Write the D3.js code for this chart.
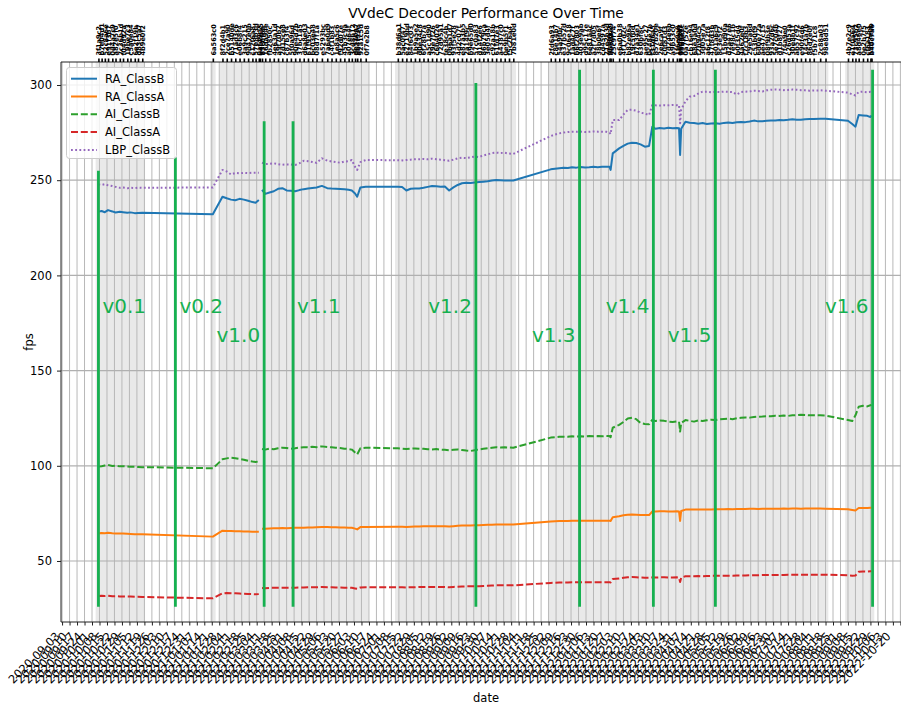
<!DOCTYPE html>
<html>
<head>
<meta charset="utf-8">
<script src="https://cdn.jsdelivr.net/npm/d3@7"></script>
<style>
  html, body { margin: 0; padding: 0; background: #fff; overflow: hidden; }
  svg { display: block; font-family: "DejaVu Sans", sans-serif; }
</style>
</head>
<body>
<svg id="chart" width="901" height="705"></svg>
<script>
// ---- benchmark runs, one per commit ----
const commitDates = [
  "2020-10-07","2020-10-10","2020-10-13","2020-10-16","2020-10-20","2020-10-23","2020-10-27","2020-10-30","2020-11-03","2020-11-06","2020-11-10","2020-11-13","2020-11-17",
  "2021-01-22",
  "2021-01-31","2021-02-04","2021-02-08","2021-02-12","2021-02-16","2021-02-20","2021-02-24","2021-02-28","2021-03-03","2021-03-06","2021-03-07","2021-03-09","2021-03-12","2021-03-16","2021-03-20","2021-03-24","2021-03-28","2021-04-01","2021-04-05","2021-04-09","2021-04-13","2021-04-17","2021-04-21","2021-04-25","2021-04-29","2021-05-04",
  "2021-05-09","2021-05-13","2021-05-17","2021-05-21","2021-05-25","2021-05-29","2021-06-01","2021-06-04","2021-06-06","2021-06-09","2021-06-14",
  "2021-07-14","2021-07-18","2021-07-22","2021-07-26","2021-07-30","2021-08-03","2021-08-07","2021-08-11","2021-08-15","2021-08-19","2021-08-23","2021-08-27","2021-08-31","2021-09-04","2021-09-08","2021-09-12","2021-09-16","2021-09-20","2021-09-24","2021-09-28","2021-10-02","2021-10-06","2021-10-10","2021-10-14","2021-10-18","2021-10-22","2021-10-26","2021-10-30",
  "2021-12-04","2021-12-08","2021-12-12","2021-12-16","2021-12-20","2021-12-24","2021-12-28","2022-01-01","2022-01-05","2022-01-09","2022-01-13","2022-01-17","2022-01-21","2022-01-25","2022-01-28","2022-01-29","2022-01-31",
  "2022-02-06","2022-02-10","2022-02-14","2022-02-18","2022-02-22","2022-02-26","2022-03-02","2022-03-06","2022-03-09","2022-03-12","2022-03-16","2022-03-20","2022-03-24","2022-03-28","2022-04-01","2022-04-03","2022-04-04","2022-04-05","2022-04-09","2022-04-13",
  "2022-04-17","2022-04-21","2022-04-25","2022-04-29","2022-05-03","2022-05-07","2022-05-11","2022-05-15","2022-05-19","2022-05-23","2022-05-27","2022-05-31","2022-06-04","2022-06-08","2022-06-12","2022-06-16","2022-06-20","2022-06-24","2022-06-28","2022-07-02","2022-07-06","2022-07-10","2022-07-14","2022-07-18","2022-07-22","2022-07-26","2022-07-30","2022-08-03","2022-08-07",
  "2022-08-13","2022-08-18",
  "2022-09-08","2022-09-12","2022-09-15","2022-09-18","2022-09-22","2022-09-26","2022-09-29","2022-09-30"
];

const commitHashes = [
  "3f1a9c2","b7e04d1","52c8a6e","e91f3b7","0d4a7c9","a82e5f0","7c36b1d","f04d92a","19be7c3","c5a0e84","6e2f19b","d83c5a7","4b9e0f2",
  "6a563c0",
  "8f2d4b1","2ce7a90","b5140de","71ad3c6","e06b8f4","3a9c215","9d47e0b","c12f6a8","57e8b3d","0af49c2","e4b7d15","83c0f6a","16da94e","fb2850c","4e63a1d","a9f70b2","2d15ce8","c87b3f4","5f0a96d","90e4d2b","37bc1a5","d6a8e03","61f95c7","bc03e48","08d7f1a","e5293bc",
  "7a6e0d9","c4f1b83","1e8a5c6","f92d07e","45b3c9a","a07e64f","3cd8b12","de510a7","6b4f93e","92a1c5d","0f7e2b8",
  "b38d6a1","5ac0f47","e2719bd","84f6c03","1b9a5e2","d0e34c8","6f28b7a","a5c1d90","39e7f26","c6b402e","72d95a1","fe38c4b","0b6a1d7","93f5e28","4d2c07f","e87a3b5","2a14f9c","b9e65d0","57c0a83","d14f2e6","86b79ca","3e05d4f","c92a18b","61fd7e3","a4387c0","0e9b5f1","f5c26a4","7b81e0d",
  "2fd6a93","c8e14b7","54a9f0c","e37b52d","9c06e18","1ad4c7f","b6f2803","403e9ab","d95c17e","6e81a4c","a2f7d05","38b0e6f","cd4597a","71e2b3d","f0a86c2","8b3d1e9","25c9f74",
  "e6a0b38","4f17d2c","b82e96a","19c5f0d","d7a34e1","630bf8c","ae95c27","0c48e7b","f31d6a5","857b20e","2e6ca9f","c0f81d3","7d24e6b","a9b53c0","1f6e0a8","e4c79d2","5b0a3f7","93d8e1c","0a7f52e","cb16e94",
  "68e3a0d","f2b94c5","3d05e7a","a6c12f8","47f8d3b","e01a6c9","8c3e5f2","15bd90a","d2a47e6","7e98c1b","b0f35d4","4a62e0f","f7c18b3","29e5a6d","c53b0f9","6d0e72a","ae47c15","08f9b3e","93a2d6c","5e7c04b","d1b8f27","7f4a9e0","c26d53a","30e8b1f","ab57c92","e90f4d6","14c3a7b","86d2e0f","f5b71c8",
  "2c88a03","98e8d51",
  "4b7e2c9","e1f0a6d","73c95b2","a8d46e0","0e2b7f5","cf6a183","59d3e0b","b40c7a6"
];

// decoded frames per second for each configuration (null = run failed)
const RA_ClassB = [
  233.5,233.8,233.2,234.3,233.6,233.0,233.4,233.2,232.9,233.1,232.7,232.8,232.9,
  232.1,
  241.3,240.5,239.8,239.5,240.2,239.8,239.2,238.5,238.2,239.6,null,244.9,242.8,243.5,244.2,245.5,245.8,244.6,244.5,244.2,244.8,245.3,245.6,245.9,246.2,247.0,
  245.8,245.6,245.5,245.4,245.3,245.0,244.6,243.0,241.3,246.2,246.6,
  246.6,246.4,244.6,245.5,245.6,245.7,246.0,246.5,247.0,246.8,246.6,246.7,244.6,246.2,247.5,248.4,248.6,248.5,248.8,249.0,249.2,249.4,249.8,250.1,250.0,249.9,249.8,249.8,
  255.7,256.0,256.3,256.5,256.4,256.8,256.6,256.9,256.7,256.8,257.0,256.8,257.0,257.1,257.1,255.4,264.1,
  266.7,268.0,269.2,269.7,269.5,268.8,267.6,268.0,278.1,277.0,277.4,277.2,277.5,277.3,277.4,277.3,263.2,277.0,280.7,280.2,
  280.0,279.7,280.0,279.5,279.8,279.9,279.7,280.1,280.3,280.0,280.4,280.6,280.5,280.8,281.3,280.9,281.0,281.2,281.4,281.3,281.6,281.5,281.7,282.0,281.8,281.7,282.0,282.1,282.2,
  282.3,282.3,
  281.2,279.5,278.1,284.2,284.0,283.8,283.2,284.0
];

const RA_ClassA = [
  64.6,64.7,64.6,64.8,64.6,64.5,64.4,64.4,64.3,64.2,64.1,64.1,64.0,
  62.8,
  65.9,65.8,65.7,65.6,65.6,65.5,65.5,65.4,65.4,65.4,null,67.0,66.9,67.1,67.2,67.2,67.3,67.2,67.3,67.4,67.5,67.5,67.6,67.6,67.7,67.8,
  67.8,67.7,67.7,67.6,67.6,67.5,67.5,67.0,66.6,67.8,67.9,
  68.0,68.0,67.9,68.0,68.1,68.1,68.2,68.2,68.3,68.3,68.2,68.3,68.1,68.3,68.5,68.6,68.7,68.7,68.8,68.8,68.9,69.0,69.1,69.2,69.2,69.2,69.2,69.2,
  70.8,70.9,71.0,71.0,71.0,71.1,71.1,71.1,71.1,71.2,71.2,71.2,71.2,71.2,71.2,71.0,73.0,
  73.5,74.0,74.3,74.4,74.3,74.2,74.1,74.1,76.0,76.0,76.1,76.1,76.0,76.0,76.1,76.0,71.0,76.3,77.0,77.0,
  77.0,77.1,77.0,77.1,77.1,77.2,77.2,77.2,77.3,77.2,77.3,77.3,77.3,77.4,77.4,77.3,77.4,77.4,77.5,77.5,77.5,77.6,77.5,77.6,77.6,77.5,77.6,77.6,77.6,
  77.6,77.5,
  77.2,76.8,76.5,77.8,77.9,77.8,78.0,78.0
];

const AI_ClassB = [
  99.6,99.8,100.2,100.5,99.9,100.1,99.7,99.8,99.6,99.5,99.5,99.4,99.3,
  98.7,
  103.4,103.9,104.2,104.0,103.6,103.2,102.6,102.2,102.0,102.3,null,108.8,108.5,109.0,108.7,109.2,109.5,109.3,109.0,109.2,109.6,109.8,109.7,110.0,109.8,110.2,
  109.9,109.7,109.5,109.3,109.0,108.8,108.5,107.0,106.0,109.2,109.5,
  109.2,109.0,108.8,109.0,109.1,109.0,108.9,108.7,108.6,108.8,108.5,108.4,108.2,108.4,108.6,108.3,108.0,107.8,108.2,108.6,108.9,109.2,109.5,109.8,109.6,109.7,109.6,109.5,
  114.8,115.0,115.2,115.3,115.2,115.5,115.4,115.5,115.4,115.6,115.5,115.6,115.5,115.7,115.6,115.0,120.0,
  121.5,123.0,124.8,125.2,124.5,122.5,122.0,121.8,124.2,123.5,123.8,123.6,123.2,123.0,123.3,123.2,118.0,122.5,124.0,123.6,
  123.2,123.8,123.5,123.9,124.2,124.0,124.4,124.6,124.8,124.5,125.0,125.2,125.4,125.3,125.6,125.8,125.9,126.1,126.0,126.3,126.2,126.4,126.2,126.5,126.6,126.8,126.7,126.5,126.6,
  126.5,126.4,
  124.0,123.5,126.5,131.0,131.5,131.2,131.8,132.0
];

const AI_ClassA = [
  31.6,31.7,31.6,31.8,31.5,31.5,31.4,31.4,31.3,31.3,31.2,31.2,31.1,
  30.4,
  33.0,33.2,33.1,33.0,32.9,32.8,32.7,32.6,32.5,32.6,null,35.8,35.7,35.9,35.9,36.0,36.0,35.9,35.9,36.0,36.1,36.1,36.2,36.2,36.2,36.3,
  36.2,36.2,36.1,36.1,36.0,36.0,35.9,35.6,35.4,36.1,36.2,
  36.2,36.2,36.1,36.2,36.2,36.3,36.3,36.3,36.4,36.4,36.3,36.4,36.2,36.4,36.5,36.6,36.7,36.7,36.8,36.8,36.9,37.0,37.1,37.2,37.2,37.2,37.2,37.2,
  38.5,38.6,38.7,38.7,38.7,38.8,38.8,38.8,38.8,38.9,38.9,38.9,38.9,38.9,38.9,38.7,40.5,
  40.8,41.2,41.5,41.6,41.5,41.3,41.2,41.2,41.4,41.3,41.4,41.4,41.3,41.3,41.4,41.3,39.0,41.2,42.0,42.0,
  42.0,42.1,42.0,42.1,42.2,42.2,42.2,42.3,42.3,42.3,42.4,42.4,42.4,42.5,42.5,42.5,42.6,42.6,42.6,42.7,42.7,42.7,42.8,42.8,42.8,42.8,42.8,42.8,42.8,
  42.8,42.8,
  42.5,42.3,42.4,44.3,44.5,44.4,44.6,44.6
];

const LBP_ClassB = [
  247.8,247.5,247.9,247.3,246.9,246.5,246.0,246.2,245.8,246.0,245.9,246.1,246.0,
  246.2,
  255.4,254.6,253.0,253.8,253.6,253.9,253.7,253.9,253.9,253.9,null,259.2,258.5,258.6,258.9,258.4,258.1,258.3,258.2,258.0,258.9,260.2,260.0,259.6,259.1,261.5,
  260.3,259.8,259.5,259.2,259.8,260.0,260.6,257.0,255.4,259.5,260.6,
  260.5,260.4,260.6,260.8,261.0,261.0,261.2,261.0,261.3,261.0,260.8,260.5,260.2,260.8,261.5,261.8,261.6,262.0,262.4,262.2,263.0,263.6,264.2,264.5,264.3,264.4,264.0,263.8,
  273.2,274.0,274.6,275.0,275.3,275.5,275.4,275.5,275.3,275.4,275.6,275.5,275.5,275.4,275.0,274.2,281.6,
  281.6,284.5,286.9,287.0,286.5,285.5,285.0,284.2,289.5,289.3,289.2,289.4,289.3,289.5,289.4,289.5,279.9,287.0,291.5,293.9,
  294.2,295.5,296.5,296.5,296.2,296.4,296.3,296.5,296.4,296.3,295.0,296.3,296.5,296.6,297.0,296.8,296.6,297.2,297.5,297.6,297.5,297.3,297.4,297.6,297.5,297.3,297.2,297.0,297.1,
  297.2,297.0,
  296.0,295.1,294.5,296.3,296.5,296.2,296.4,296.3
];

const seriesNames = ["RA_ClassB", "RA_ClassA", "AI_ClassB", "AI_ClassA", "LBP_ClassB"];
const seriesValues = [RA_ClassB, RA_ClassA, AI_ClassB, AI_ClassA, LBP_ClassB];

// ---- releases ----
const versionNames  = ["v0.1", "v0.2", "v1.0", "v1.1", "v1.2", "v1.3", "v1.4", "v1.5", "v1.6"];
const versionDates  = ["2020-10-07", "2020-12-18", "2021-03-11", "2021-04-07", "2021-09-25", "2021-12-31", "2022-03-10", "2022-05-07", "2022-10-01"];
const versionTop    = [255, 262, 281, 281, 301, 308, 308, 308, 308];
const versionBottom = 26;

// ---- axes ----
const yTickValues = [50, 100, 150, 200, 250, 300];
const xDomainDates = ["2020-09-02", "2022-11-05"];
const yDomain = [17.96, 312.08];
const firstWeeklyTick = "2020-09-03";
const lastLabelledTick = "2022-10-20";

// ---- styling ----
const styles = {
  RA_ClassB:  { color: "#1f77b4", dash: null },
  RA_ClassA:  { color: "#ff7f0e", dash: null },
  AI_ClassB:  { color: "#2ca02c", dash: "7,2.8" },
  AI_ClassA:  { color: "#d62728", dash: "7,2.8" },
  LBP_ClassB: { color: "#9467bd", dash: "1.8,2.4" }
};
const releaseColor = "#16b050";
const labelLayout = [           // which side of the release line, and which row
  { side: "right", value: 180 }, { side: "right", value: 180 }, { side: "left", value: 165 },
  { side: "right", value: 180 }, { side: "left",  value: 180 }, { side: "left", value: 165 },
  { side: "left",  value: 180 }, { side: "left",  value: 165 }, { side: "left", value: 180 }
];

const parse = d3.utcParse("%Y-%m-%d");
const fmt = d3.utcFormat("%Y-%m-%d");
const dates = commitDates.map(parse);

const plot = { left: 61, right: 910, top: 62, bottom: 622 };
const x = d3.scaleUtc().domain(xDomainDates.map(parse)).range([plot.left, plot.right]);
const y = d3.scaleLinear().domain(yDomain).range([plot.bottom, plot.top]);

const svg = d3.select("#chart");

// active-development shading around every benchmarked commit
const dayMs = 864e5, halfSpan = 2.6 * dayMs;
svg.append("g").selectAll("rect").data(dates).join("rect")
  .attr("x", d => x(new Date(+d - halfSpan)))
  .attr("width", d => x(new Date(+d + halfSpan)) - x(new Date(+d - halfSpan)))
  .attr("y", plot.top).attr("height", plot.bottom - plot.top)
  .attr("fill", "#e9e9e9");

// weekly grid
const weekly = d3.utcThursday.range(parse(firstWeeklyTick), x.domain()[1]);
svg.append("g").selectAll("line").data(weekly).join("line")
  .attr("x1", d => x(d)).attr("x2", d => x(d))
  .attr("y1", plot.top).attr("y2", plot.bottom)
  .attr("stroke", "#b8b8b8").attr("stroke-width", 1);

svg.append("g").selectAll("line").data(yTickValues).join("line")
  .attr("x1", plot.left).attr("x2", plot.right)
  .attr("y1", d => y(d)).attr("y2", d => y(d))
  .attr("stroke", "#b0b0b0").attr("stroke-width", 1.2);

// series
const line = d3.line()
  .defined(d => d[1] != null)
  .x(d => x(d[0])).y(d => y(d[1]));

seriesNames.forEach((name, k) => {
  const pts = dates.map((d, i) => [d, seriesValues[k][i]]);
  svg.append("path")
    .attr("d", line(pts))
    .attr("fill", "none")
    .attr("stroke", styles[name].color)
    .attr("stroke-width", 2)
    .attr("stroke-dasharray", styles[name].dash)
    .attr("stroke-linejoin", "round");
});

// release markers
const rel = svg.append("g");
versionNames.forEach((v, i) => {
  const xv = x(parse(versionDates[i]));
  rel.append("line")
    .attr("x1", xv).attr("x2", xv)
    .attr("y1", y(versionBottom)).attr("y2", y(versionTop[i]))
    .attr("stroke", releaseColor).attr("stroke-width", 2.8);
  const lay = labelLayout[i];
  rel.append("text")
    .attr("x", lay.side === "right" ? xv + 4 : xv - 4)
    .attr("y", y(lay.value))
    .attr("text-anchor", lay.side === "right" ? "start" : "end")
    .attr("fill", releaseColor)
    .attr("font-size", 20)
    .text(v);
});

// spines
svg.append("g").attr("stroke", "#222").attr("stroke-width", 1)
  .call(g => {
    g.append("line").attr("x1", plot.left).attr("x2", plot.left).attr("y1", plot.top).attr("y2", plot.bottom);
    g.append("line").attr("x1", plot.left).attr("x2", plot.right).attr("y1", plot.top).attr("y2", plot.top);
    g.append("line").attr("x1", plot.left).attr("x2", plot.right).attr("y1", plot.bottom).attr("y2", plot.bottom);
  });

// bottom axis: weekly dates
const lastLabel = parse(lastLabelledTick);
const xAxis = d3.axisBottom(x).tickValues(weekly)
  .tickFormat(d => d <= lastLabel ? fmt(d) : "")
  .tickSize(3.5).tickPadding(3);
svg.append("g").attr("transform", `translate(0,${plot.bottom})`).call(xAxis)
  .call(g => g.select(".domain").remove())
  .call(g => g.selectAll("line").attr("stroke", "#222"))
  .call(g => g.selectAll("text")
    .attr("x", 0).attr("y", 0).attr("dy", 0)
    .attr("transform", "translate(-2,15) rotate(-45)")
    .style("text-anchor", "end")
    .attr("fill", "#000")
    .attr("font-size", 11.5)
    .attr("font-family", "DejaVu Sans"));

// top axis: commit hashes
const topAxis = d3.axisTop(x).tickValues(dates).tickFormat((d, i) => commitHashes[i]).tickSize(3.5).tickPadding(0);
svg.append("g").attr("transform", `translate(0,${plot.top})`).call(topAxis)
  .call(g => g.select(".domain").remove())
  .call(g => g.selectAll("line").attr("stroke", "#000").attr("stroke-width", 1.6))
  .call(g => g.selectAll("text")
    .attr("x", 6.5).attr("y", 0).attr("dy", "0.35em")
    .attr("transform", "rotate(-90)")
    .style("text-anchor", "start")
    .attr("fill", "#000")
    .attr("font-size", 6.6)
    .attr("font-weight", "bold")
    .attr("font-family", "DejaVu Sans"));

// left axis
const yAxis = d3.axisLeft(y).tickValues(yTickValues).tickSize(4).tickPadding(5);
svg.append("g").attr("transform", `translate(${plot.left},0)`).call(yAxis)
  .call(g => g.select(".domain").remove())
  .call(g => g.selectAll("line").attr("stroke", "#222"))
  .call(g => g.selectAll("text").attr("fill", "#000").attr("font-size", 11.5).attr("font-family", "DejaVu Sans"));

// titles
svg.append("text").attr("x", (plot.left + 911) / 2).attr("y", 17.5)
  .attr("text-anchor", "middle").attr("font-size", 13.8).attr("fill", "#000")
  .text("VVdeC Decoder Performance Over Time");
svg.append("text").attr("x", (plot.left + 911) / 2).attr("y", 702)
  .attr("text-anchor", "middle").attr("font-size", 11.5).attr("fill", "#000")
  .text("date");
svg.append("text").attr("transform", `translate(33,${(plot.top + plot.bottom) / 2}) rotate(-90)`)
  .attr("text-anchor", "middle").attr("font-size", 11.5).attr("fill", "#000")
  .text("fps");

// legend
const legend = svg.append("g").attr("transform", "translate(66.5,67.5)");
legend.append("rect").attr("width", 110).attr("height", 91).attr("rx", 3)
  .attr("fill", "#fff").attr("fill-opacity", 0.8).attr("stroke", "#cccccc");
seriesNames.forEach((name, i) => {
  const ly = 11.2 + i * 17.8;
  legend.append("line").attr("x1", 4.5).attr("x2", 30.5).attr("y1", ly).attr("y2", ly)
    .attr("stroke", styles[name].color).attr("stroke-width", 2)
    .attr("stroke-dasharray", styles[name].dash);
  legend.append("text").attr("x", 38.5).attr("y", ly).attr("dy", "0.35em")
    .attr("font-size", 11.5).attr("fill", "#000").text(name);
});
</script>
</body>
</html>
